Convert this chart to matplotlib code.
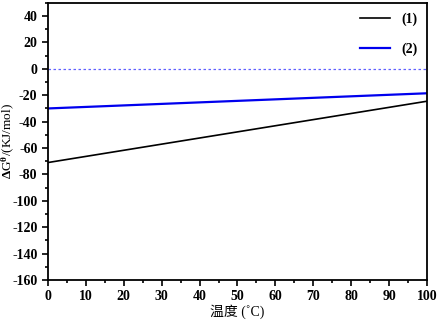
import matplotlib
matplotlib.use("Agg")
import matplotlib.pyplot as plt
from matplotlib.ticker import MultipleLocator

# datos
temperatura = [0, 100]
dg_1 = [-71, -24.5]
dg_2 = [-30, -18.5]
cero = [0, 0]

plt.rcParams['font.family'] = ['Liberation Serif', 'Noto Sans CJK SC']
plt.rcParams['font.weight'] = 'bold'
plt.rcParams['axes.unicode_minus'] = False
plt.rcParams['mathtext.fontset'] = 'custom'
plt.rcParams['mathtext.rm'] = 'Liberation Serif:bold'
plt.rcParams['mathtext.it'] = 'Liberation Serif:bold'

fig = plt.figure(figsize=(4.39, 3.2), dpi=100)
ax = fig.add_axes([0.109, 0.125, 0.864, 0.866])

ax.plot(temperatura, dg_1, color='black', lw=1.2, label='(1)')
ax.plot(temperatura, dg_2, color='#0000ee', lw=1.6, label='(2)')
ax.plot(temperatura, cero, color='#6060ff', lw=0.9, ls=(0, (2, 2)))

ax.set_xlim(0, 100)
ax.set_ylim(-160, 50)
ax.xaxis.set_major_locator(MultipleLocator(10))
ax.xaxis.set_minor_locator(MultipleLocator(5))
ax.yaxis.set_major_locator(MultipleLocator(20))
ax.yaxis.set_minor_locator(MultipleLocator(10))
ax.tick_params(which='both', direction='out', width=1.2, labelsize=10)
ax.tick_params(which='major', length=4)
ax.tick_params(which='minor', length=2.5)
for s in ax.spines.values():
    s.set_linewidth(1.3)

ax.set_xlabel('温度 (˚C)', fontsize=10, labelpad=1)
ax.set_ylabel(r'$\Delta$G$^{\theta}$/(KJ/mol)', fontsize=9.5)
ax.yaxis.set_label_coords(-0.085, 0.5)

ax.legend(loc='upper right', frameon=False, fontsize=10, handlelength=2.2,
          labelspacing=1.2, borderaxespad=0.3)

fig.savefig('out.png', dpi=100)
